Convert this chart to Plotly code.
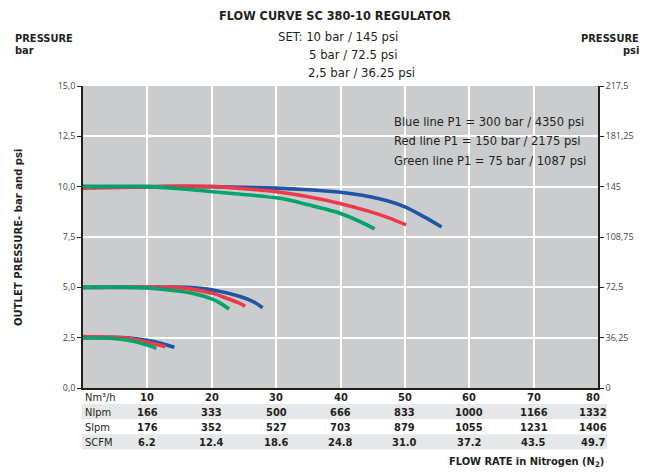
import plotly.graph_objects as go

# ---------------- data ----------------
flow_ticks = [10, 20, 30, 40, 50, 60, 70, 80]
nlpm = ["166", "333", "500", "666", "833", "1000", "1166", "1332"]
slpm = ["176", "352", "527", "703", "879", "1055", "1231", "1406"]
scfm = ["6.2", "12.4", "18.6", "24.8", "31.0", "37.2", "43.5", "49.7"]

bar_ticks = [0, 2.5, 5, 7.5, 10, 12.5, 15]
bar_labels = ["0,0", "2,5", "5,0", "7,5", "10,0", "12,5", "15,0"]
psi_ticks = [0, 36.25, 72.5, 108.75, 145, 181.25, 217.5]
psi_labels = ["0", "36,25", "72,5", "108,75", "145", "181,25", "217,5"]

# set 10 bar
blue10_x = [0, 10, 20, 30, 35, 40, 46, 50, 53, 55.7]
blue10_y = [10.0, 10.0, 10.0, 9.93, 9.85, 9.72, 9.4, 9.0, 8.5, 8.0]
red10_x = [0, 10, 15, 20, 25, 30.6, 35, 39.9, 44.6, 47.5, 50.2]
red10_y = [9.92, 9.98, 10.03, 10.0, 9.9, 9.72, 9.5, 9.17, 8.76, 8.45, 8.1]
green10_x = [0, 10, 15, 22.8, 30.6, 35, 39.9, 43, 45.3]
green10_y = [10.0, 10.0, 9.9, 9.67, 9.42, 9.1, 8.68, 8.27, 7.9]
# set 5 bar
blue5_x = [0, 10, 16.1, 20.2, 24.4, 26.5, 27.9]
blue5_y = [5.0, 5.0, 5.0, 4.87, 4.54, 4.28, 3.99]
red5_x = [0, 10, 14, 17.1, 20.2, 22.3, 24, 25.2]
red5_y = [5.0, 5.02, 5.0, 4.9, 4.7, 4.46, 4.25, 4.07]
green5_x = [0, 8, 11.9, 17.1, 20.2, 21.5, 22.7]
green5_y = [5.0, 5.0, 4.92, 4.7, 4.4, 4.18, 3.92]
# set 2.5 bar
blue25_x = [0, 4, 6.8, 10.4, 12.5, 14.2]
blue25_y = [2.5, 2.52, 2.5, 2.35, 2.19, 2.02]
red25_x = [0, 4, 6.8, 10.4, 11.7, 12.8]
red25_y = [2.55, 2.52, 2.48, 2.25, 2.15, 2.05]
green25_x = [0, 4.2, 6.8, 9.4, 10.5, 11.4]
green25_y = [2.48, 2.47, 2.38, 2.19, 2.08, 1.97]

legend_lines = ["Blue line P1 = 300 bar / 4350 psi",
                "Red line P1 = 150 bar / 2175 psi",
                "Green line P1 = 75 bar / 1087 psi"]

BLUE = "#1F55A5"
RED = "#EE3A48"
GREEN = "#00A36D"
FONT = "DejaVu Sans Condensed, Liberation Sans Narrow, Roboto Condensed, sans-serif"
TXT = "#231F20"

fig = go.Figure()
series = [
    (blue10_x, blue10_y, BLUE), (red10_x, red10_y, RED), (green10_x, green10_y, GREEN),
    (blue5_x, blue5_y, BLUE), (red5_x, red5_y, RED), (green5_x, green5_y, GREEN),
    (blue25_x, blue25_y, BLUE), (red25_x, red25_y, RED), (green25_x, green25_y, GREEN),
]
for xs, ys, c in series:
    fig.add_trace(go.Scatter(x=xs, y=ys, mode="lines",
                             line=dict(color=c, width=3.6, shape="spline", smoothing=0.8),
                             showlegend=False, hoverinfo="skip"))

# invisible trace for right axis
fig.add_trace(go.Scatter(x=[0, 80], y=[0, 217.5], yaxis="y2", mode="markers",
                         marker=dict(opacity=0), showlegend=False, hoverinfo="skip"))

fig.update_layout(
    width=662, height=472,
    margin=dict(l=83, r=64, t=86, b=84),
    paper_bgcolor="white",
    plot_bgcolor="#CBCCCE",
    font=dict(family=FONT, color=TXT),
    xaxis=dict(range=[0, 80], tickvals=flow_ticks, showticklabels=False,
               showgrid=True, gridcolor="white", gridwidth=1.5, zeroline=False,
               showline=True, linecolor="#231F20", linewidth=1.5, ticks=""),
    yaxis=dict(range=[0, 15], tickvals=bar_ticks, ticktext=bar_labels,
               tickfont=dict(size=9, color="#444", family="Open Sans, sans-serif"),
               showgrid=True, gridcolor="white", gridwidth=1.5, zeroline=False,
               showline=True, linecolor="#231F20", linewidth=1.5,
               ticks="outside", ticklen=4, tickcolor="#231F20"),
    yaxis2=dict(range=[0, 217.5], tickvals=psi_ticks, ticktext=psi_labels,
                overlaying="y", side="right", showgrid=False, zeroline=False,
                tickfont=dict(size=9, color="#444", family="Open Sans, sans-serif"),
                showline=True, linecolor="#231F20", linewidth=1.5,
                ticks="outside", ticklen=4, tickcolor="#231F20"),
)

def px_x(px):
    return (px - 83) / 515

def px_y(py):
    return (388 - py) / 302

annotations = []
# title block
for txt, cx, cy, sz in [("<b>FLOW CURVE SC 380-10 REGULATOR</b>", 335, 15, 12.6),
                        ("SET: 10 bar / 145 psi", 338, 36.7, 13),
                        ("5 bar / 72.5 psi", 353, 54.5, 13),
                        ("2,5 bar / 36.25 psi", 361.7, 72, 13)]:
    annotations.append(dict(text=txt, xref="paper", yref="paper", x=px_x(cx), y=px_y(cy),
                            xanchor="center", yanchor="middle", showarrow=False,
                            font=dict(size=sz)))
# PRESSURE labels
for txt, px, py, xa in [("<b>PRESSURE</b>", 13, 38, "left"), ("<b>bar</b>", 13, 51, "left"),
                        ("<b>PRESSURE</b>", 641, 38, "right"), ("<b>psi</b>", 641, 51, "right")]:
    annotations.append(dict(text=txt, xref="paper", yref="paper", x=px_x(px), y=px_y(py),
                            xanchor=xa, yanchor="middle", showarrow=False,
                            font=dict(size=11)))
# legend texts
for i, t in enumerate(legend_lines):
    annotations.append(dict(text=t, xref="paper", yref="paper",
                            x=px_x(392), y=px_y(121.7 + 19.2 * i),
                            xanchor="left", yanchor="middle", showarrow=False,
                            font=dict(size=12.8)))
# y title
annotations.append(dict(text="<b>OUTLET PRESSURE- bar and psi</b>", xref="paper", yref="paper",
                        x=px_x(18), y=px_y(237), textangle=-90,
                        xanchor="center", yanchor="middle", showarrow=False,
                        font=dict(size=11.2)))
# x title
annotations.append(dict(text="<b>FLOW RATE in Nitrogen (N<sub>2</sub>)</b>", xref="paper", yref="paper",
                        x=px_x(606), y=px_y(462),
                        xanchor="right", yanchor="middle", showarrow=False,
                        font=dict(size=11)))
# table
rows = [("Nm³/h", [str(v) for v in flow_ticks], 397.3),
        ("Nlpm", nlpm, 412.7), ("Slpm", slpm, 427.7), ("SCFM", scfm, 442.3)]
for label, vals, py in rows:
    yy = px_y(py)
    annotations.append(dict(text=label, xref="paper", yref="paper", x=0, y=yy,
                            xanchor="left", yanchor="middle", showarrow=False,
                            font=dict(size=11)))
    for xv, v in zip(flow_ticks, vals):
        annotations.append(dict(text="<b>%s</b>" % v, xref="x", yref="paper", x=xv, y=yy,
                                xanchor="center", yanchor="middle", showarrow=False,
                                xshift=-5 if xv == 80 else 0,
                                font=dict(size=11)))
fig.update_layout(annotations=annotations)

shapes = []
for top, bot in [(404, 419.3), (434.3, 449.3)]:
    shapes.append(dict(type="rect", xref="paper", yref="paper",
                       x0=px_x(82), x1=px_x(607), y0=px_y(top), y1=px_y(bot),
                       fillcolor="#E6E7E8", line=dict(width=0), layer="below"))
fig.update_layout(shapes=shapes)

fig.write_html("out.html", config={"displayModeBar": False},
               post_script="document.body.style.margin='0';")
